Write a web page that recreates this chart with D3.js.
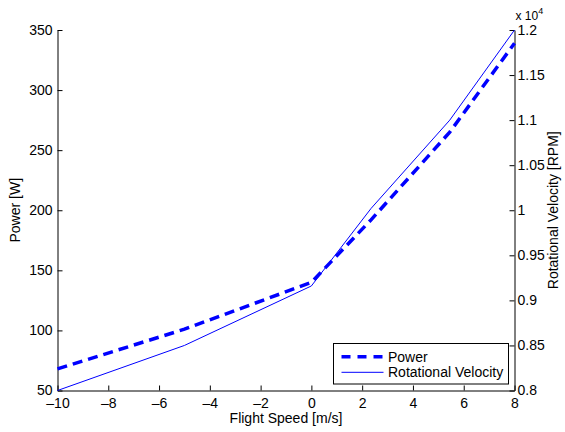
<!DOCTYPE html>
<html>
<head>
<meta charset="utf-8">
<script src="https://cdn.jsdelivr.net/npm/d3@7"></script>
<style>
  body { margin: 0; background: #fff; }
  text { font-family: "Liberation Sans", Arial, sans-serif; fill: #000; }
</style>
</head>
<body>
<div id="chart"></div>
<script>
// flight speed [m/s]
const speed = [-10, -5, 0, 2.35, 5.45, 8]
// power [W]
const power = [68, 101, 140, 192, 265, 339]
// rotational velocity [RPM]
const rpm = [8000, 8500, 9160, 10020, 11000, 12000]

const xTicks = [-10, -8, -6, -4, -2, 0, 2, 4, 6, 8]
const powerTicks = [50, 100, 150, 200, 250, 300, 350]
const rpmTicks = [8000, 8500, 9000, 9500, 10000, 10500, 11000, 11500, 12000]

const fullWidth = 565, fullHeight = 432
const margin = { top: 30, right: 50.5, bottom: 41.5, left: 57.5 }
const width = fullWidth - margin.left - margin.right
const height = fullHeight - margin.top - margin.bottom

const svg = d3.select('#chart')
  .append('svg')
    .attr('width', fullWidth)
    .attr('height', fullHeight)
  .append('g')
    .attr('transform', `translate(${margin.left}, ${margin.top})`)

const xScale = d3.scaleLinear().domain([-10, 8]).range([0, width])
const yLeft = d3.scaleLinear().domain([50, 350]).range([height, 0])
const yRight = d3.scaleLinear().domain([8000, 12000]).range([height, 0])

const minus = d => d < 0 ? '\u2013' + Math.abs(d) : String(d)

function styleAxis (g) {
  g.select('.domain').attr('stroke', '#000').attr('stroke-width', 1)
  g.selectAll('.tick line').attr('stroke', '#000')
  g.selectAll('.tick text').style('font-size', '14px')
}

// x axis (ticks point inward)
svg.append('g')
  .attr('transform', `translate(0, ${height})`)
  .call(d3.axisBottom(xScale).tickValues(xTicks).tickFormat(minus).tickSizeInner(-5).tickSizeOuter(0).tickPadding(8))
  .call(styleAxis)

// left axis
svg.append('g')
  .call(d3.axisLeft(yLeft).tickValues(powerTicks).tickSizeInner(-5).tickSizeOuter(0).tickPadding(5))
  .call(styleAxis)

// right axis
svg.append('g')
  .attr('transform', `translate(${width}, 0)`)
  .call(d3.axisRight(yRight).tickValues(rpmTicks).tickFormat(d => d / 10000).tickSizeInner(-5).tickSizeOuter(0).tickPadding(3))
  .call(styleAxis)

// exponent label
const expo = svg.append('text')
  .attr('x', width + 1)
  .attr('y', -10)
  .style('font-size', '12px')
expo.append('tspan').text('x 10')
expo.append('tspan').attr('dy', -6).style('font-size', '9px').text('4')

// axis titles
svg.append('text')
  .attr('x', width / 2)
  .attr('y', height + 32.5)
  .attr('text-anchor', 'middle')
  .style('font-size', '14px')
  .text('Flight Speed [m/s]')

svg.append('text')
  .attr('transform', `translate(-38, ${height / 2}) rotate(-90)`)
  .attr('text-anchor', 'middle')
  .style('font-size', '14px')
  .text('Power [W]')

svg.append('text')
  .attr('transform', `translate(${width + 43}, ${height / 2}) rotate(-90)`)
  .attr('text-anchor', 'middle')
  .style('font-size', '14px')
  .text('Rotational Velocity [RPM]')

// lines
const powerLine = d3.line()
  .x((d, i) => xScale(speed[i]))
  .y(d => yLeft(d))

const rpmLine = d3.line()
  .x((d, i) => xScale(speed[i]))
  .y(d => yRight(d))

svg.append('path')
  .attr('d', rpmLine(rpm))
  .style('stroke', '#0000ff')
  .style('stroke-width', 1)
  .style('fill', 'none')

svg.append('path')
  .attr('d', powerLine(power))
  .style('stroke', '#0000ff')
  .style('stroke-width', 3.5)
  .style('stroke-dasharray', '10,6')
  .style('fill', 'none')

// legend
const legend = svg.append('g')
  .attr('transform', `translate(${333.5 - margin.left}, ${343.5 - margin.top})`)

legend.append('rect')
  .attr('width', 175)
  .attr('height', 40.5)
  .attr('fill', '#fff')
  .attr('stroke', '#000')

const items = [
  { name: 'Power', width: 3.5, dash: '9,7' },
  { name: 'Rotational Velocity', width: 1, dash: null }
]

items.forEach((it, i) => {
  const y = 13.2 + i * 15.6
  legend.append('line')
    .attr('x1', 8).attr('x2', 50)
    .attr('y1', y).attr('y2', y)
    .style('stroke', '#0000ff')
    .style('stroke-width', it.width)
    .style('stroke-dasharray', it.dash)
  legend.append('text')
    .attr('x', 54.5)
    .attr('y', y + 5)
    .style('font-size', '14px')
    .text(it.name)
})
</script>
</body>
</html>
